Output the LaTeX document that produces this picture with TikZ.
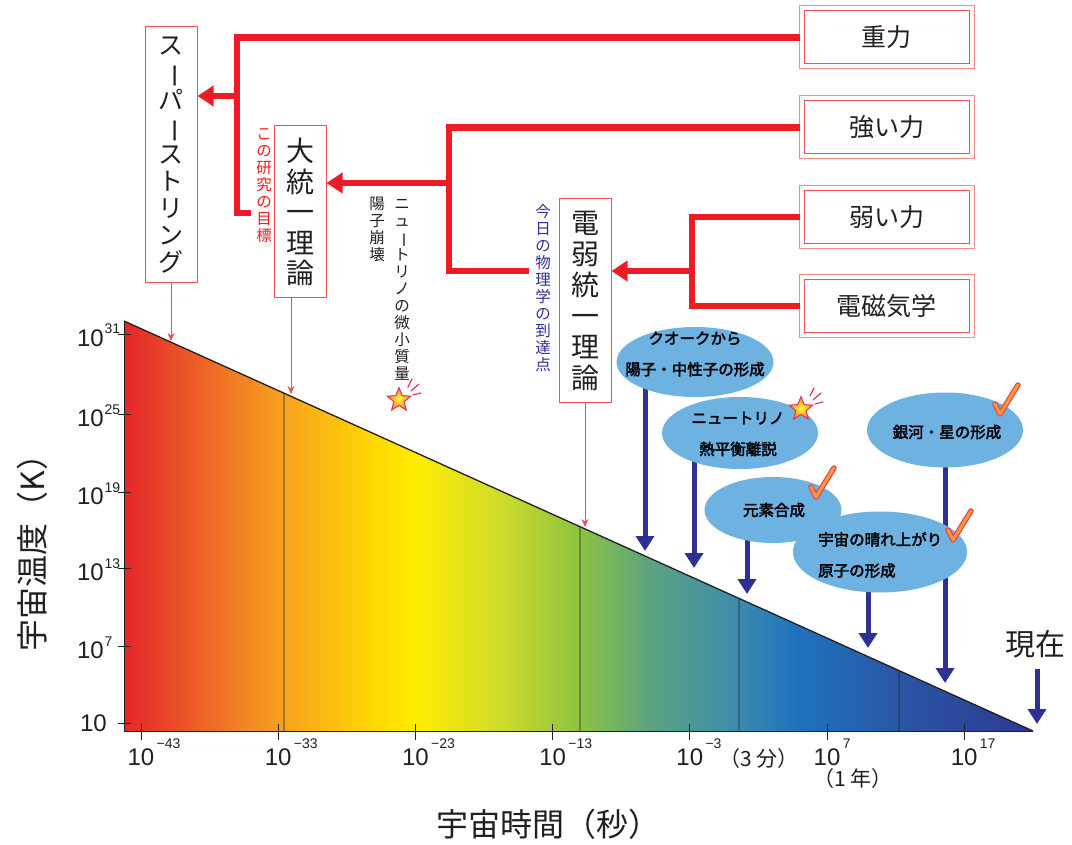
\documentclass[tikz,border=0pt]{standalone}
\usepackage{fontspec}
\usepackage{graphicx}
\setmainfont{Liberation Sans}
\newfontfamily\cjk{Noto Sans CJK JP}
\newfontfamily\cjkb[FakeBold=2.5]{Noto Sans CJK JP}
\usetikzlibrary{arrows.meta,shapes.geometric,calc}

\definecolor{lred}{RGB}{237,28,36}
\definecolor{bred}{RGB}{236,80,80}
\definecolor{pred}{RGB}{243,140,135}
\definecolor{navy}{RGB}{46,49,146}
\definecolor{ink}{RGB}{35,31,32}
\definecolor{sky}{RGB}{110,178,226}
\definecolor{g0}{RGB}{229,37,41}
\definecolor{g1}{RGB}{238,106,39}
\definecolor{g2}{RGB}{246,160,30}
\definecolor{g3}{RGB}{254,212,4}
\definecolor{g4}{RGB}{255,237,0}
\definecolor{g5}{RGB}{205,219,43}
\definecolor{g6}{RGB}{141,195,64}
\definecolor{g7}{RGB}{91,163,127}
\definecolor{g8}{RGB}{61,139,173}
\definecolor{g9}{RGB}{30,115,190}
\definecolor{g10}{RGB}{43,85,164}
\definecolor{g11}{RGB}{43,57,144}
\definecolor{chkr}{RGB}{232,70,70}
\definecolor{chko}{RGB}{250,150,70}
\definecolor{starl}{RGB}{225,50,100}

\newcommand{\vb}{\rotatebox[origin=c]{-90}{ー}}
\newcommand{\chk}[2]{%
  \draw[chkr,line width=5.5pt,line cap=round,line join=round] (#1-5,#2-10) -- (#1,#2) -- (#1+18,#2-29);
  \draw[chko,line width=3pt,line cap=round,line join=round] (#1-5,#2-10) -- (#1,#2) -- (#1+18,#2-29);}
\newcommand{\sparkle}[1]{%
  \draw[starl,line width=1.2pt,line cap=round] ($(#1)+(9,-13)$) -- ($(#1)+(13,-21)$);
  \draw[starl,line width=1.2pt,line cap=round] ($(#1)+(12,-9)$) -- ($(#1)+(20,-16)$);
  \draw[starl,line width=1.2pt,line cap=round] ($(#1)+(14,-5)$) -- ($(#1)+(22,-7)$);}

\tikzset{
  redline/.style={line width=6.5pt, draw=lred},
  redarrow/.style={line width=6.5pt, draw=lred, -{Triangle[length=16pt,width=20pt]}},
  forcebox/.style={draw=bred, line width=1pt,
    minimum width=165pt, minimum height=53pt, inner sep=0pt,
    font=\cjk\fontsize{25}{27}\selectfont, text=ink},
  outerbox/.style={draw=pred, line width=1pt},
  theorybox/.style={draw=bred, line width=1pt, fill=white, minimum width=52pt,
    inner sep=0pt, align=center, text=ink},
  thinred/.style={draw=bred, line width=1pt, -{Stealth[length=8pt,width=7pt]}},
  vsmall/.style={align=center, inner sep=0pt, font=\cjk\fontsize{15.5}{17}\selectfont},
  ell/.style={ellipse, fill=sky, inner sep=0pt},
  etxt/.style={font=\cjkb\fontsize{15.5}{31}\selectfont, align=center, text=black, inner sep=0pt},
  navyarrow/.style={draw=navy, line width=5pt, -{Triangle[length=15pt,width=18pt]}},
  numlab/.style={font=\fontsize{24}{24}\selectfont, text=ink, inner sep=0pt},
  explab/.style={font=\fontsize{14}{14}\selectfont, text=ink, inner sep=0pt},
  tickmark/.style={draw=ink, line width=0.8pt},
  starnode/.style={star, star points=5, star point ratio=2.3, minimum size=25pt, inner sep=0pt,
    draw=starl, line width=1pt, inner color=yellow!70!white, outer color=orange},
}

\begin{document}
\begin{tikzpicture}[x=1pt,y=-1pt]
\useasboundingbox (0,0) rectangle (1072,845);
\fill[white] (0,0) rectangle (1072,845);

% ---------- plot ----------
\coordinate (TL) at (124,321);
\coordinate (BL) at (124,731);
\coordinate (AP) at (1033,731);
\begin{scope}
  \clip (TL) -- (AP) -- (BL) -- cycle;
  \foreach \a/\b/\ca/\cb in {124/210/g0/g1, 210/280/g1/g2, 280/367/g2/g3, 367/414/g3/g4,
      414/502/g4/g5, 502/578/g5/g6, 578/649/g6/g7, 649/737/g7/g8, 737/796/g8/g9,
      796/902/g9/g10, 902/1034/g10/g11}
    \fill[left color=\ca, right color=\cb] (\a,318) rectangle (\b+1,733);
\end{scope}
\foreach \x in {284,580,739,899}
  \draw[ink, line width=0.8pt] ($(TL)!{(\x-124)/909}!(AP)$) -- (\x,731);
\draw[ink, line width=1pt] (TL) -- (BL) -- (AP);
\draw[ink, line width=1.3pt] (TL) -- (AP);

% y ticks and labels
\foreach \y/\e in {334/31, 414/25, 492/19, 568/13, 646/7} {
  \draw[tickmark] (118,\y) -- (131,\y);
  \node[numlab, anchor=base east] (yl\e) at (104,\y+12) {10};
  \node[explab, anchor=base west] (ye\e) at (104.5,\y) {\e};
}
\draw[tickmark] (118,723) -- (131,723);
\node[numlab, anchor=base east] (yl1) at (107,731) {10};

% x ticks and labels
\foreach \k/\e in {0/−43, 1/−33, 2/−23, 3/−13, 4/−3, 5/7, 6/17} {
  \pgfmathsetmacro\xx{141+137.2*\k}
  \draw[tickmark] (\xx,724) -- (\xx,740);
  \node[numlab, anchor=base] (xl\k) at (\xx,765) {10};
  \node[explab, anchor=base west] (xe\k) at ($(xl\k.base east)+(2,-17)$) {\e};
}
\node[font=\cjk\fontsize{21}{21}\selectfont, text=ink] (m3) at (759,759) {（3 分）};
\node[font=\cjk\fontsize{21}{21}\selectfont, text=ink] (y1) at (853,779) {（1 年）};

% axis titles
\node[font=\cjk\fontsize{32}{32}\selectfont, text=ink] (xt) at (548,824) {宇宙時間（秒）};
\node[font=\cjk\fontsize{32}{32}\selectfont, text=ink, rotate=90] (yt) at (32,545) {宇宙温度（K）};

% now
\node[font=\cjk\fontsize{30}{30}\selectfont, text=ink] (now) at (1035,644) {現在};
\coordinate (nowtip) at (1037,724);
\draw[navyarrow] (now.south -| nowtip) ++(0,8) -- (nowtip);

% ---------- force boxes ----------
\node[forcebox] (grav) at (886.5,37.5) {重力};
\node[forcebox] (strong) at (886.5,127.5) {強い力};
\node[forcebox] (weak) at (886.5,217) {弱い力};
\node[forcebox] (em) at (886.5,306) {電磁気学};
\foreach \n in {grav,strong,weak,em}
  \draw[outerbox] ($(\n.north west)+(-4.5,-4.5)$) rectangle ($(\n.south east)+(4.5,4.5)$);

% ---------- theory boxes ----------
\node[theorybox, minimum height=256pt, font=\cjk\fontsize{25}{27}\selectfont] (ss) at (171,155)
  {ス\\\vb\\パ\\\vb\\ス\\ト\\リ\\ン\\グ};
\node[theorybox, minimum height=172pt, font=\cjk\fontsize{28}{30.5}\selectfont] (gut) at (300,212)
  {大\\統\\一\\理\\論};
\node[theorybox, minimum height=203pt, font=\cjk\fontsize{28}{31}\selectfont] (ew) at (585,300.5)
  {電\\弱\\統\\一\\理\\論};

% red connectors
\coordinate (gv) at (237,213);
\coordinate (gvend) at (251,213);
\coordinate (gj) at (237,96);
\draw[redline] ($(grav.west)+(-4,0)$) -| (gv) -- (gvend);
\draw[redarrow] (gj) -- (ss.east |- gj);

\coordinate (sv) at (449,271);
\coordinate (svend) at (529,271);
\coordinate (sj) at (449,183);
\draw[redline] ($(strong.west)+(-4,0)$) -| (sv) -- (svend);
\draw[redarrow] (sj) -- (gut.east |- sj);

\coordinate (wv) at (692,271);
\draw[redline] ($(weak.west)+(-4,0)$) -| (wv) |- ($(em.west)+(-4,0)$);
\draw[redarrow] (wv) -- (ew.east |- wv);

% thin red arrows to the plot
\coordinate (h1) at (172,341);
\coordinate (h2) at (291,394);
\coordinate (h3) at (585,527);
\draw[thinred] (ss.south) -- (ss.south |- h1);
\draw[thinred] (gut.south -| h2) -- (h2);
\draw[thinred] (ew.south) -- (ew.south |- h3);

% small vertical texts
\node[vsmall, text=lred] (goal) at (264,186) {こ\\の\\研\\究\\の\\目\\標};
\node[vsmall, text=ink] (pd) at (377,229) {陽\\子\\崩\\壊};
\node[vsmall, text=ink] (nm) at (402,290) {ニ\\ュ\\\vb\\ト\\リ\\ノ\\の\\微\\小\\質\\量};
\node[vsmall, text=navy] (today) at (543,288) {今\\日\\の\\物\\理\\学\\の\\到\\達\\点};

\node[starnode] (st1) at (399,400) {};
\sparkle{st1}

% ---------- events ----------
\coordinate (c1) at (695,362);
\coordinate (c2) at (740,433);
\coordinate (c3) at (773,510);
\coordinate (c4) at (880,552);
\coordinate (c5) at (945,430);
\coordinate (n1) at (645,551);
\coordinate (n2) at (694,568);
\coordinate (n3) at (747,594);
\coordinate (n4) at (868,648);
\coordinate (n5) at (945,683);
\draw[navyarrow] (n1 |- c1) -- (n1);
\draw[navyarrow] (n2 |- c2) -- (n2);
\draw[navyarrow] (n3 |- c3) -- (n3);
\draw[navyarrow] (n4 |- c4) -- (n4);
\draw[navyarrow] (n5 |- c5) -- (n5);

\node[ell, minimum width=157pt, minimum height=70pt] (e1) at (c1) {};
\node[ell, minimum width=156pt, minimum height=72pt] (e2) at (c2) {};
\node[ell, minimum width=137pt, minimum height=66pt] (e3) at (c3) {};
\node[ell, minimum width=156pt, minimum height=75pt] (e5) at (c5) {};
\node[ell, minimum width=174pt, minimum height=81pt] (e4) at (c4) {};

\node[etxt] (t1) at (695,354) {クオークから\\陽子・中性子の形成};
\node[etxt] (t2) at (738,434) {ニュートリノ\\熱平衡離説};
\node[etxt] (t3) at (774,510) {元素合成};
\node[etxt, align=left, anchor=west] (t4) at (818,555) {宇宙の晴れ上がり\\原子の形成};
\node[etxt] (t5) at (947,432) {銀河・星の形成};

\node[starnode] (st2) at (801,409) {};
\sparkle{st2}
\chk{816}{497}
\chk{953}{540}
\chk{1000}{414}
\end{tikzpicture}
\end{document}
